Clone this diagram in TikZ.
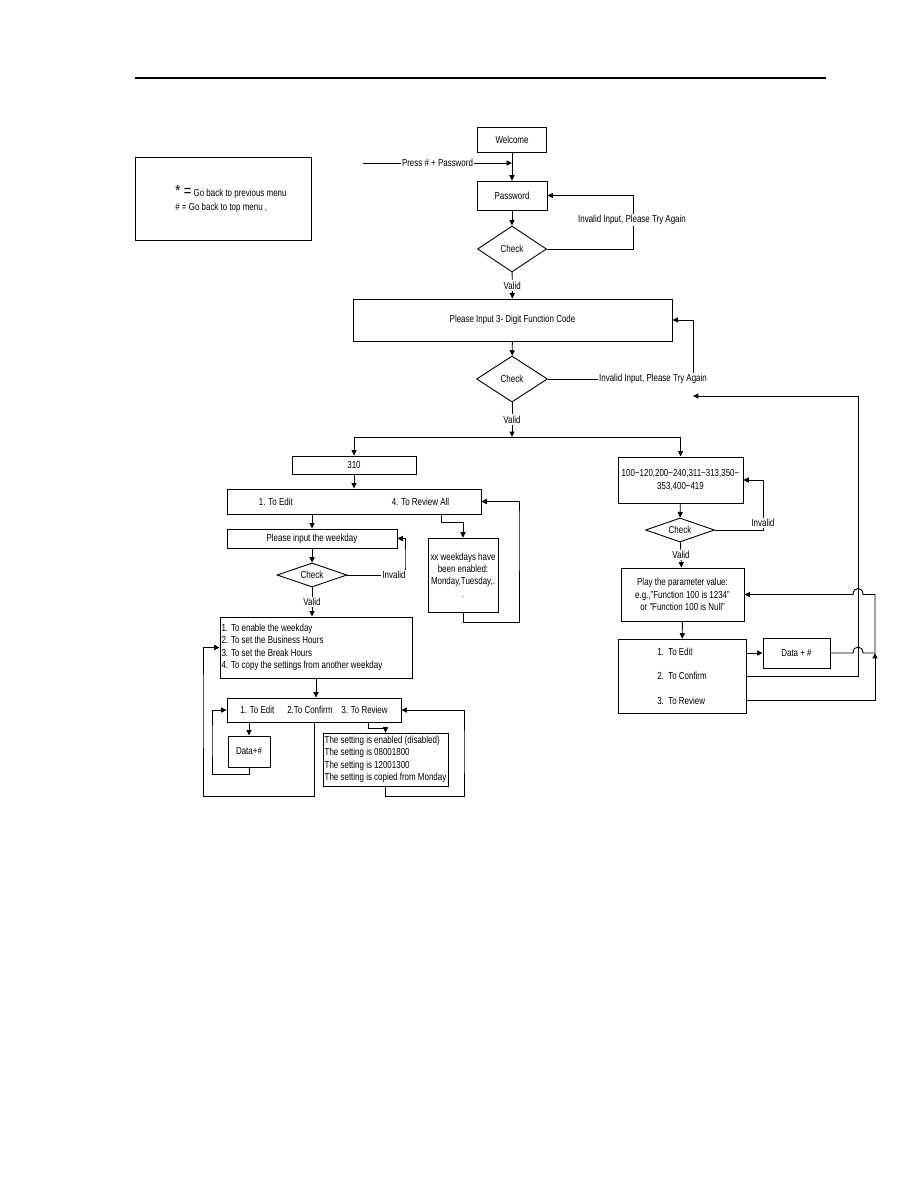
\documentclass[tikz,border=0pt]{standalone}
\usepackage{fontspec}
\setmainfont{Liberation Sans}[FakeStretch=0.78]
\usepackage{tikz}
\usetikzlibrary{arrows.meta,positioning,shapes.geometric}
\newcommand\dgmfont{\fontsize{6.8}{8.3}\selectfont}

\begin{document}
\begin{tikzpicture}[
x=0.6667pt, y=-0.6667pt,
line width=0.6pt,
block/.style={draw, inner sep=1pt, align=center, font=\dgmfont},
check/.style={draw, diamond, aspect=3, inner sep=0pt, font=\dgmfont},
lbl/.style={fill=white, inner sep=1pt, font=\dgmfont},
arrow/.style={-{Triangle[length=3.6pt, width=3.4pt]}}
]
\useasboundingbox (0,0) rectangle (918,1188);
\draw[line width=1.3pt] (135,78) -- (826,78);

\node[block, minimum width=117.3pt, minimum height=55.3pt, align=left, inner sep=0pt] (legend) at (223,198.5) {\hspace*{10.6pt}{\fontsize{11}{11}\selectfont * =} Go back to previous menu\\[1pt]\hspace*{10.6pt}\# = Go back to top menu ,};

\node[block, minimum width=46pt, minimum height=16.7pt] (welcome) at (512,140) {Welcome};
\node[block, minimum width=46.7pt, minimum height=19.3pt] (pwd) at (512,195.5) {Password};
\node[check, minimum width=46pt, minimum height=30.7pt] (chk1) at (512,249) {Check};
\node[block, minimum width=212.7pt, minimum height=28pt] (code) at (512.5,320) {Please Input 3- Digit Function Code};
\node[check, minimum width=47.3pt, minimum height=30.7pt] (chk2) at (512,379) {Check};
\coordinate (split) at (512,437);
\coordinate (press) at (363,163);

\node[block, minimum width=82.7pt, minimum height=12pt] (f310) at (354,465) {310};
\node[block, minimum width=169.3pt, minimum height=16.7pt] (edit) at (354,501.5) {1. To Edit\hspace{66pt}4. To Review All};
\node[block, minimum width=113.3pt, minimum height=12.7pt] (day) at (312,538.5) {Please input the weekday};
\node[check, minimum width=46.7pt, minimum height=16pt] (chk3) at (312,575) {Check};
\node[block, minimum width=46.7pt, minimum height=49.3pt] (review) at (463,575) {xx weekdays have\\been enabled:\\Monday,Tuesday,.\\.};
\node[block, text width=126pt, minimum height=40.7pt, align=flush left] (opts) at (316,647.5) {1. To enable the weekday\\2. To set the Business Hours\\3. To set the Break Hours\\4. To copy the settings from another weekday};
\node[block, minimum width=116pt, minimum height=16pt] (menu) at (314,710) {1. To Edit\hspace{8.7pt}2.To Confirm\hspace{6pt}3. To Review};
\node[block, minimum width=28pt, minimum height=20.7pt] (data1) at (249,751.5) {Data+\#};
\node[block, minimum width=83.3pt, minimum height=35.3pt, align=left] (setting) at (385.5,759.5) {The setting is enabled (disabled)\\The setting is 08001800\\The setting is 12001300\\The setting is copied from Monday};

\node[block, minimum width=83.3pt, minimum height=30.7pt] (range) at (680.5,480) {100\textasciitilde120,200\textasciitilde240,311\textasciitilde313,350\textasciitilde\\353,400\textasciitilde419};
\node[check, minimum width=46pt, minimum height=16pt] (chk4) at (680,530) {Check};
\node[block, minimum width=82pt, minimum height=35.3pt] (play) at (682.5,594.5) {Play the parameter value:\\e.g.,"Function 100 is 1234"\\or "Function 100 is Null"};
\node[block, minimum width=85.3pt, minimum height=49.3pt, align=left] (menu2) at (682,676) {1.\ \ To Edit\\[8pt]2.\ \ To Confirm\\[8pt]3.\ \ To Review};
\node[block, minimum width=44.7pt, minimum height=20pt] (data2) at (796.5,653) {Data + \#};
\coordinate (back) at (693,396);
\coordinate (join) at (875,653);

\draw[arrow] (press) -- (press -| welcome.south) node[lbl, midway] (presslbl) {Press \# + Password};
\draw[arrow] (welcome) -- (pwd);
\draw[arrow] (pwd) -- (chk1);
\draw[arrow] (chk1.east) -| (633,220) |- (pwd.east);
\draw[arrow] (chk1) -- (code) node[lbl, midway] (valid1) {Valid};
\draw[arrow] (code) -- (chk2);
\draw[arrow] (chk2.east) -| (693,350) |- (code.east);
\draw[arrow] (chk2) -- (split) node[lbl, midway] (valid2) {Valid};
\draw[arrow] (split) -| (f310.north);
\draw[arrow] (split) -| (range.north);

\draw[arrow] (f310) -- (edit);
\draw[arrow] (day.north |- edit.south) -- (day.north);
\draw[arrow] (day) -- (chk3);
\draw[arrow] (chk3.east) -| (405,560) |- (day.east);
\draw[arrow] (chk3.south) -- (chk3.south |- opts.north) node[lbl, midway] (valid3) {Valid};
\draw[arrow] ([xshift=58pt]edit.south) -- ++(0,8) -| (review.north);
\draw[arrow] (review.south) -- ++(0,10) -| (519,520) |- (edit.east);
\draw[arrow] (opts.south) -- (opts.south |- menu.north);
\draw[arrow] (data1.north |- menu.south) -- (data1.north);
\draw[arrow] (data1.south) -- ++(0,7) -| (212,740) |- (menu.west);
\draw[arrow] (menu.south) -- ++(0,74) -| (203,700) |- (opts.west);
\draw[arrow] ([xshift=36pt]menu.south) -- ++(0,6) -| (setting.north);
\draw[arrow] (setting.south) -- ++(0,10) -| (464,750) |- (menu.east);

\draw[arrow] (range) -- (chk4);
\draw[arrow] (chk4.east) -| (763,500) |- (range.east);
\draw[arrow] (chk4) -- (play) node[lbl, midway] (valid4) {Valid};
\draw[arrow] (play) -- (menu2);
\draw[arrow] (menu2.east |- data2.west) -- (data2.west);
\draw (data2.east) -- (853,653) .. controls (853,645) and (863,645) .. (863,653) -- (join);
\draw[arrow] (menu2.east) -| (858,500) |- (back);
\draw[arrow] ([yshift=-16pt]menu2.east) -| (join);
\draw[arrow] (join) |- (863,594.5) .. controls (863,586.5) and (853,586.5) .. (853,594.5) -- (play.east);

\node[lbl] (inv1) at (632,220) {Invalid Input, Please Try Again};
\node[lbl] (inv2) at (653,379) {Invalid Input, Please Try Again};
\node[lbl] (inv3) at (394,575) {Invalid};
\node[lbl] (inv4) at (763,523) {Invalid};
\end{tikzpicture}
\end{document}
